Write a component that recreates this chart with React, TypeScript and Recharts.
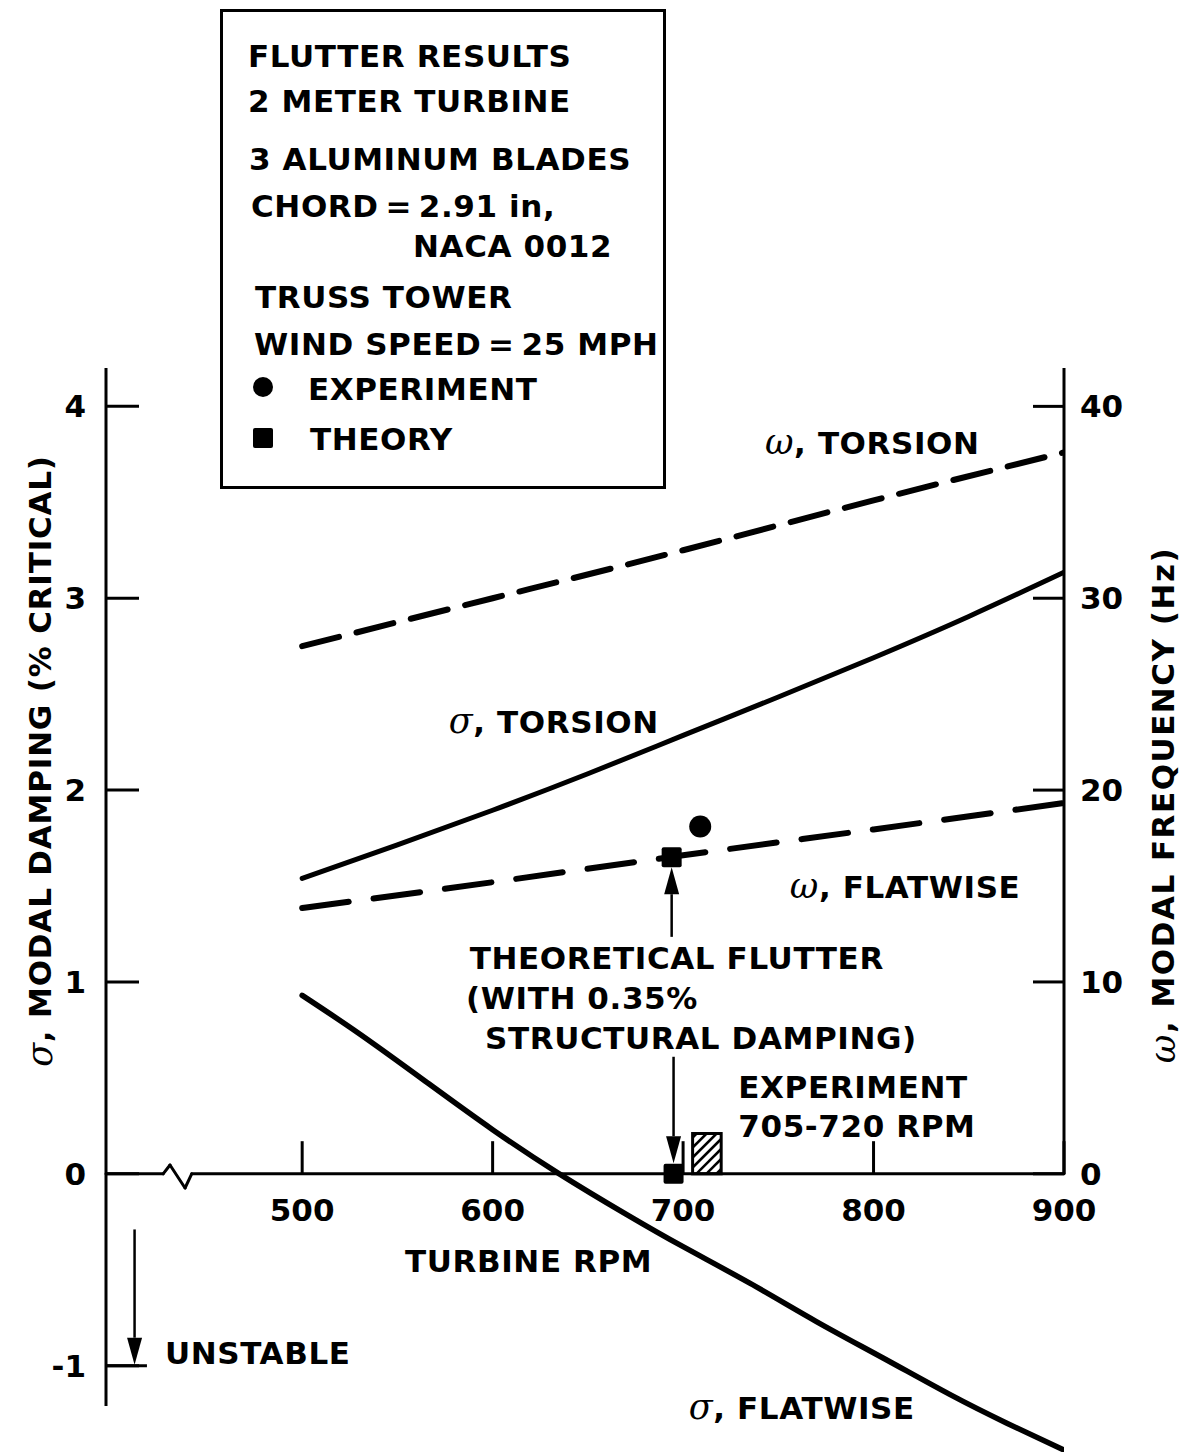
import React from 'react';
import {
  ComposedChart,
  Line,
  Scatter,
  XAxis,
  YAxis,
  ReferenceLine,
  ReferenceArea,
  ReferenceDot,
  Legend,
} from 'recharts';

// ---------------- data ----------------
const rpmTorsionSigma = [500, 550, 600, 650, 700, 750, 800, 850, 900];
const sigmaTorsion = [1.54, 1.715, 1.895, 2.085, 2.285, 2.485, 2.69, 2.905, 3.135];

const rpmFlatwiseSigma = [500, 530, 565, 600, 635, 670, 700, 735, 770, 805, 840, 870, 900];
const sigmaFlatwise = [0.93, 0.73, 0.48, 0.23, 0, -0.21, -0.38, -0.57, -0.77, -0.96, -1.15, -1.3, -1.44];

const rpmOmega = [500, 600, 700, 800, 900];
const omegaTorsion = [27.5, 30.0, 32.5, 35.1, 37.6];
const omegaFlatwise = [13.85, 15.2, 16.6, 17.95, 19.33];

const experimentRpm = [709];
const experimentOmega = [18.1];
const theoryRpm = [694];
const theoryOmega = [16.5];
const theoryFlutterRpm = [695];
const theoryFlutterSigma = [0];

const experimentRpmRange = [705, 720];
const experimentBarHeight = 0.21;

const rpmTicks = [500, 600, 700, 800, 900];
const sigmaTicks = [-1, 0, 1, 2, 3, 4];
const omegaTicks = [0, 10, 20, 30, 40];

const legendLines = [
  'FLUTTER RESULTS',
  '2 METER TURBINE',
  '3 ALUMINUM BLADES',
  'CHORD\u2009=\u20092.91 in,',
  'NACA 0012',
  'TRUSS TOWER',
  'WIND SPEED\u2009=\u200925 MPH',
  'EXPERIMENT',
  'THEORY',
];

// ---------------- derived tables ----------------
const toRows = (xs: number[], ys: number[]) => xs.map((rpm, i) => ({ rpm, v: ys[i] }));
const sigmaTorsionData = toRows(rpmTorsionSigma, sigmaTorsion);
const sigmaFlatwiseData = toRows(rpmFlatwiseSigma, sigmaFlatwise);
const omegaTorsionData = toRows(rpmOmega, omegaTorsion);
const omegaFlatwiseData = toRows(rpmOmega, omegaFlatwise);
const experimentData = toRows(experimentRpm, experimentOmega);
const theoryData = toRows(theoryRpm, theoryOmega);
const theoryFlutterData = toRows(theoryFlutterRpm, theoryFlutterSigma);

// ---------------- styling / layout ----------------
const FONT = "'DejaVu Sans', 'Liberation Sans', sans-serif";
const GREEK = "'DejaVu Serif', 'Liberation Serif', serif";
const FS = 31;
const LS = 0.6;
const X_DOMAIN: [number, number] = [397, 900];
const SIGMA_DOMAIN: [number, number] = [-1.45, 4.2];
const OMEGA_DOMAIN: [number, number] = [-14.5, 42];

// axis break on the RPM axis (drawn in axis units)
const axisPath: [number, number][] = [
  [397, 0],
  [427, 0],
  [430.6, 0.046],
  [438.5, -0.074],
  [442, 0],
  [900, 0],
];

// annotations anchored in data units (rpm, sigma)
const notes = [
  { g: 'σ', t: ', TORSION', rpm: 577, s: 2.3 },
  { g: 'ω', t: ', TORSION', rpm: 743, s: 3.75 },
  { g: 'ω', t: ', FLATWISE', rpm: 756, s: 1.44 },
  { g: '', t: 'THEORETICAL FLUTTER', rpm: 588, s: 1.07 },
  { g: '', t: '(WITH 0.35%', rpm: 586, s: 0.86 },
  { g: '', t: 'STRUCTURAL DAMPING)', rpm: 596, s: 0.65 },
  { g: '', t: 'EXPERIMENT', rpm: 729, s: 0.395 },
  { g: '', t: '705-720 RPM', rpm: 729, s: 0.19 },
  { g: '', t: 'TURBINE RPM', rpm: 554, s: -0.51 },
  { g: '', t: 'UNSTABLE', rpm: 428, s: -0.99 },
  { g: 'σ', t: ', FLATWISE', rpm: 703, s: -1.28 },
];

const LeftTick = (props: any) => {
  const { x, y, payload } = props;
  return (
    <g>
      <line x1={x} x2={x + 33} y1={y} y2={y} stroke="#000" strokeWidth={3} />
      <text x={x - 20} y={y + 11} textAnchor="end" fontFamily={FONT} fontWeight="bold" fontSize={FS} fill="#000">
        {payload.value}
      </text>
    </g>
  );
};

const RightTick = (props: any) => {
  const { x, y, payload } = props;
  return (
    <g>
      <line x1={x - 31} x2={x} y1={y} y2={y} stroke="#000" strokeWidth={3} />
      <text x={x + 16} y={y + 11} textAnchor="start" fontFamily={FONT} fontWeight="bold" fontSize={FS} fill="#000">
        {payload.value}
      </text>
    </g>
  );
};

const Arrow = (props: any) => {
  const { x1, y1, x2, y2 } = props;
  const dx = x2 - x1;
  const dy = y2 - y1;
  const len = Math.sqrt(dx * dx + dy * dy) || 1;
  const ux = dx / len;
  const uy = dy / len;
  const hl = 27;
  const hw = 7.5;
  const bx = x2 - ux * hl;
  const by = y2 - uy * hl;
  return (
    <g>
      <line x1={x1} y1={y1} x2={bx} y2={by} stroke="#000" strokeWidth={2.5} />
      <polygon
        points={`${x2},${y2} ${bx - uy * hw},${by + ux * hw} ${bx + uy * hw},${by - ux * hw}`}
        fill="#000"
      />
    </g>
  );
};

const HatchBox = (props: any) => {
  const { x, y, width, height } = props;
  const lines = [];
  for (let k = -height + 4; k < width; k += 10) {
    lines.push(
      <line key={k} x1={x + k} y1={y + height} x2={x + k + height} y2={y} stroke="#000" strokeWidth={2.5} />
    );
  }
  return (
    <g>
      <defs>
        <clipPath id="hatch-clip">
          <rect x={x} y={y} width={width} height={height} />
        </clipPath>
      </defs>
      <g clipPath="url(#hatch-clip)">{lines}</g>
      <rect x={x} y={y} width={width} height={height} fill="none" stroke="#000" strokeWidth={3} />
    </g>
  );
};

const Square = (props: any) => (
  <rect x={props.cx - 10} y={props.cy - 10} width={20} height={20} rx={2} fill="#000" />
);
const Circle = (props: any) => <circle cx={props.cx} cy={props.cy} r={11} fill="#000" />;

const noteLabel = (g: string, t: string) => (p: any) => {
  const vb = p.viewBox || {};
  return (
    <text
      x={vb.x}
      y={vb.y}
      fontFamily={FONT}
      fontWeight="bold"
      fontSize={FS}
      letterSpacing={LS}
      fill="#000"
    >
      {g ? (
        <tspan fontFamily={GREEK} fontStyle="italic" fontWeight="normal" fontSize={35}>
          {g}
        </tspan>
      ) : null}
      {t}
    </text>
  );
};

const xTickLabel = (value: number) => (p: any) => {
  const vb = p.viewBox || {};
  return (
    <text
      x={vb.x}
      y={vb.y + vb.height + 47}
      textAnchor="middle"
      fontFamily={FONT}
      fontWeight="bold"
      fontSize={FS}
      fill="#000"
    >
      {value}
    </text>
  );
};

const LegendBox = () => {
  const rows: { x: number; y: number }[] = [
    { x: 28, y: 58 },
    { x: 28, y: 103 },
    { x: 29, y: 161 },
    { x: 31, y: 208 },
    { x: 193, y: 248 },
    { x: 35, y: 299 },
    { x: 34, y: 346 },
    { x: 88, y: 391 },
    { x: 90, y: 441 },
  ];
  return (
    <svg width={446} height={480} style={{ display: 'block' }}>
      <rect x={1.5} y={1.5} width={443} height={477} fill="#fff" stroke="#000" strokeWidth={3} />
      {legendLines.map((s, i) => (
        <text
          key={s}
          x={rows[i].x}
          y={rows[i].y}
          fontFamily={FONT}
          fontWeight="bold"
          fontSize={FS}
          letterSpacing={LS}
          fill="#000"
        >
          {s}
        </text>
      ))}
      <circle cx={43} cy={378} r={10} fill="#000" />
      <rect x={33} y={419} width={20} height={20} rx={2} fill="#000" />
    </svg>
  );
};

const LeftTitle = () => {
  const cx = 40;
  const cy = 761;
  return (
    <text
      x={cx}
      y={cy}
      transform={`rotate(-90, ${cx}, ${cy})`}
      textAnchor="middle"
      dominantBaseline="central"
      fontFamily={FONT}
      fontWeight="bold"
      fontSize={FS}
      letterSpacing={0.8}
      fill="#000"
    >
      <tspan fontFamily={GREEK} fontStyle="italic" fontWeight="normal" fontSize={35}>
        σ
      </tspan>
      , MODAL DAMPING (% CRITICAL)
    </text>
  );
};

const RightTitle = () => {
  const cx = 1163;
  const cy = 805;
  return (
    <text
      x={cx}
      y={cy}
      transform={`rotate(-90, ${cx}, ${cy})`}
      textAnchor="middle"
      dominantBaseline="central"
      fontFamily={FONT}
      fontWeight="bold"
      fontSize={FS}
      letterSpacing={1.5}
      fill="#000"
    >
      <tspan fontFamily={GREEK} fontStyle="italic" fontWeight="normal" fontSize={35}>
        ω
      </tspan>
      , MODAL FREQUENCY (Hz)
    </text>
  );
};

export default function App() {
  return (
    <div style={{ position: 'absolute', left: 0, top: 0, width: 1185, height: 1455, background: '#fff' }}>
      <ComposedChart width={1185} height={1455} margin={{ top: 368, right: 0, bottom: 3, left: 0 }}>
        <XAxis dataKey="rpm" type="number" domain={X_DOMAIN} hide allowDataOverflow />
        <YAxis
          yAxisId="left"
          orientation="left"
          width={106}
          type="number"
          domain={SIGMA_DOMAIN}
          ticks={sigmaTicks}
          interval={0}
          axisLine={false}
          tickLine={false}
          tickSize={0}
          tickMargin={0}
          tick={<LeftTick />}
          label={{ content: LeftTitle }}
          allowDataOverflow
        />
        <YAxis
          yAxisId="right"
          orientation="right"
          width={121}
          type="number"
          domain={OMEGA_DOMAIN}
          ticks={omegaTicks}
          interval={0}
          axisLine={false}
          tickLine={false}
          tickSize={0}
          tickMargin={0}
          tick={<RightTick />}
          label={{ content: RightTitle }}
          allowDataOverflow
        />
        <Legend
          layout="horizontal"
          verticalAlign="middle"
          align="center"
          content={<LegendBox />}
          wrapperStyle={{ position: 'absolute', left: 220, top: 9, width: 446, height: 480 }}
        />

        {/* axes drawn at their true positions */}
        <ReferenceLine
          yAxisId="left"
          segment={[
            { x: 397, y: 4.2 },
            { x: 397, y: -1.21 },
          ]}
          stroke="#000"
          strokeWidth={3}
        />
        <ReferenceLine
          yAxisId="right"
          segment={[
            { x: 900, y: 0 },
            { x: 900, y: 42 },
          ]}
          stroke="#000"
          strokeWidth={3}
        />
        {axisPath.slice(1).map((pt, i) => (
          <ReferenceLine
            key={`ax${i}`}
            yAxisId="left"
            segment={[
              { x: axisPath[i][0], y: axisPath[i][1] },
              { x: pt[0], y: pt[1] },
            ]}
            stroke="#000"
            strokeWidth={3}
            strokeLinecap="round"
          />
        ))}
        {rpmTicks.map((r) => (
          <ReferenceLine
            key={`xt${r}`}
            yAxisId="left"
            segment={[
              { x: r, y: 0 },
              { x: r, y: 0.17 },
            ]}
            stroke="#000"
            strokeWidth={3}
            label={xTickLabel(r)}
          />
        ))}

        {/* experiment RPM band */}
        <ReferenceArea
          yAxisId="left"
          x1={experimentRpmRange[0]}
          x2={experimentRpmRange[1]}
          y1={0}
          y2={experimentBarHeight}
          shape={<HatchBox />}
        />

        {/* arrows */}
        <ReferenceLine
          yAxisId="right"
          segment={[
            { x: 694, y: 12.35 },
            { x: 694, y: 15.98 },
          ]}
          shape={Arrow}
        />
        <ReferenceLine
          yAxisId="left"
          segment={[
            { x: 695, y: 0.61 },
            { x: 695, y: 0.055 },
          ]}
          shape={Arrow}
        />
        <ReferenceLine
          yAxisId="left"
          segment={[
            { x: 412, y: -0.29 },
            { x: 412, y: -0.995 },
          ]}
          shape={Arrow}
        />
        <ReferenceLine
          yAxisId="left"
          segment={[
            { x: 397, y: -1 },
            { x: 418.5, y: -1 },
          ]}
          stroke="#000"
          strokeWidth={3}
        />

        {/* curves */}
        <Line
          yAxisId="right"
          data={omegaTorsionData}
          dataKey="v"
          type="natural"
          stroke="#000"
          strokeWidth={6}
          strokeDasharray="38 18"
          strokeLinecap="round"
          dot={false}
          activeDot={false}
          isAnimationActive={false}
        />
        <Line
          yAxisId="right"
          data={omegaFlatwiseData}
          dataKey="v"
          type="natural"
          stroke="#000"
          strokeWidth={6}
          strokeDasharray="47 25"
          strokeLinecap="round"
          dot={false}
          activeDot={false}
          isAnimationActive={false}
        />
        <Line
          yAxisId="left"
          data={sigmaTorsionData}
          dataKey="v"
          type="natural"
          stroke="#000"
          strokeWidth={5}
          strokeLinecap="round"
          dot={false}
          activeDot={false}
          isAnimationActive={false}
        />
        <Line
          yAxisId="left"
          data={sigmaFlatwiseData}
          dataKey="v"
          type="natural"
          stroke="#000"
          strokeWidth={5.5}
          strokeLinecap="round"
          dot={false}
          activeDot={false}
          isAnimationActive={false}
        />

        {/* points */}
        <Scatter yAxisId="right" data={experimentData} dataKey="v" shape={Circle} isAnimationActive={false} />
        <Scatter yAxisId="right" data={theoryData} dataKey="v" shape={Square} isAnimationActive={false} />
        <Scatter yAxisId="left" data={theoryFlutterData} dataKey="v" shape={Square} isAnimationActive={false} />

        {/* annotations */}
        {notes.map((n, i) => (
          <ReferenceDot
            key={`n${i}`}
            yAxisId="left"
            x={n.rpm}
            y={n.s}
            r={0}
            fill="none"
            stroke="none"
            label={noteLabel(n.g, n.t)}
          />
        ))}
      </ComposedChart>
    </div>
  );
}
